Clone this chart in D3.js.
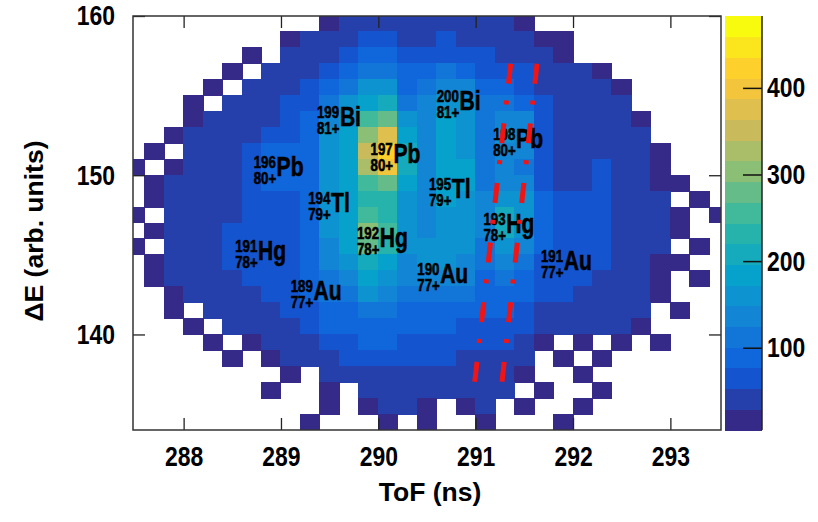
<!DOCTYPE html>
<html>
<head>
<meta charset="utf-8">
<script src="https://cdn.jsdelivr.net/npm/d3@7"></script>
<style>
body { margin: 0; background: #fff; }
svg { display: block; }
.num { font-family: "Liberation Sans", Arial, sans-serif; font-weight: bold; font-size: 28px; fill: #000; }
.title { font-family: "Liberation Sans", Arial, sans-serif; font-weight: bold; font-size: 26.5px; fill: #000; }
.iso { font-family: "Liberation Sans", Arial, sans-serif; font-weight: bold; fill: #000; stroke: #000; stroke-width: 0.6px; }
</style>
</head>
<body>
<svg class="chart-svg" width="818" height="522"></svg>
<script>
// ToF bin centres (ns) and Delta E bin centres (arb. units)
const tofCenters = [287.5, 287.7, 287.9, 288.1, 288.3, 288.5, 288.7, 288.9, 289.1, 289.3, 289.5,
    289.7, 289.9, 290.1, 290.3, 290.5, 290.7, 290.9, 291.1, 291.3, 291.5, 291.7, 291.9, 292.1,
    292.3, 292.5, 292.7, 292.9, 293.1, 293.3, 293.5];
const deCenters = [159.5, 158.5, 157.5, 156.5, 155.5, 154.5, 153.5, 152.5, 151.5, 150.5, 149.5,
    148.5, 147.5, 146.5, 145.5, 144.5, 143.5, 142.5, 141.5, 140.5, 139.5, 138.5, 137.5, 136.5,
    135.5, 134.5];

// counts per cell, one row per Delta E bin (top to bottom)
const counts = [
    [0,0,0,0,0,0,0,0,0,0,8,35,40,45,40,40,45,40,35,30,8,0,0,0,0,0,0,0,0,0,0],
    [0,0,0,0,0,0,0,0,8,30,40,45,55,60,45,50,55,50,45,40,35,8,8,0,0,0,0,0,0,0,0],
    [0,0,0,0,0,0,8,0,35,40,50,60,80,85,60,65,75,70,55,50,45,35,8,0,0,0,0,0,0,0,0],
    [0,0,0,0,0,8,0,35,40,50,70,90,110,120,80,90,110,100,70,60,55,45,35,30,8,0,0,0,0,0,0],
    [0,0,0,0,8,0,30,40,45,60,90,120,150,160,100,110,140,130,90,80,70,50,40,35,30,8,0,0,0,0,0],
    [0,0,0,8,0,30,40,45,55,75,120,150,190,200,120,130,170,160,110,110,100,60,45,40,35,30,0,0,0,0,0],
    [0,0,0,8,30,40,45,50,65,85,140,170,250,280,150,140,180,170,120,140,130,70,50,45,40,35,8,0,0,0,0],
    [0,0,8,30,35,40,50,65,75,95,150,180,300,370,180,140,180,170,120,150,140,75,50,45,45,40,30,0,0,0,0],
    [0,8,0,30,40,45,65,80,85,100,150,190,340,430,200,140,180,170,120,140,130,75,50,45,50,45,30,8,0,0,0],
    [8,0,8,35,40,50,70,85,85,100,150,190,330,410,200,140,180,175,120,130,120,70,50,50,55,45,35,8,0,0,0],
    [0,8,30,40,40,50,65,80,80,100,150,180,260,290,180,140,190,180,120,140,130,70,50,50,55,50,40,8,8,0,0],
    [0,8,35,40,40,45,60,70,75,100,150,180,230,240,160,140,180,170,130,170,150,80,55,55,60,50,40,30,0,8,0],
    [8,0,35,40,40,45,55,65,75,100,150,180,260,240,160,140,170,160,140,220,170,85,60,60,60,50,40,30,8,0,8],
    [0,8,35,40,40,55,70,70,75,100,150,190,300,260,160,140,160,150,130,210,160,85,65,65,60,50,40,30,8,0,0],
    [8,0,35,40,40,60,75,70,75,100,140,180,280,240,150,150,160,150,120,160,130,80,70,70,65,50,40,30,0,8,0],
    [0,8,30,40,40,55,70,65,70,90,130,160,220,190,140,150,150,140,110,130,110,75,70,70,60,45,35,8,8,0,0],
    [0,8,30,40,40,45,55,60,75,85,120,140,180,160,130,140,140,130,100,110,90,70,65,60,50,45,35,8,0,8,0],
    [0,0,8,35,40,40,45,55,70,80,110,120,150,140,120,120,120,110,90,95,80,60,55,50,45,40,30,8,0,0,0],
    [0,0,8,0,35,40,45,50,60,70,95,100,120,115,100,100,100,90,80,80,70,50,45,40,40,35,30,0,8,0,0],
    [0,0,0,8,0,30,40,45,50,60,80,85,100,100,85,85,85,75,70,70,55,40,35,30,30,30,8,0,0,0,0],
    [0,0,0,0,8,0,8,35,40,50,60,70,80,80,70,70,70,60,60,55,40,8,0,8,0,8,0,8,0,0,0],
    [0,0,0,0,0,8,0,8,30,40,50,55,60,60,55,55,55,50,50,45,30,0,8,0,8,0,0,0,0,0,0],
    [0,0,0,0,0,0,0,0,8,0,35,45,50,50,45,45,45,40,40,35,8,0,0,8,0,0,0,0,0,0,0],
    [0,0,0,0,0,0,0,8,0,0,8,0,30,40,40,40,35,35,35,30,0,8,0,0,8,0,0,0,0,0,0],
    [0,0,0,0,0,0,0,0,0,0,8,0,8,30,30,8,0,8,30,0,8,0,0,8,0,0,0,0,0,0,0],
    [0,0,0,0,0,0,0,0,0,8,0,0,0,8,0,8,0,0,8,0,0,0,8,0,0,0,0,0,0,0,0]
];

const tofTicks = [288, 289, 290, 291, 292, 293];
const deTicks = [140, 150, 160];
const zTicks = [100, 200, 300, 400];

// isotope labels: mass, element, charge state, anchor (ToF, Delta E)
const isoMass = ["199", "197", "200", "198", "196", "194", "195", "193", "192", "191", "190", "189", "191"];
const isoElem = ["Bi", "Pb", "Bi", "Pb", "Pb", "Tl", "Tl", "Hg", "Hg", "Hg", "Au", "Au", "Au"];
const isoCharge = ["81+", "80+", "81+", "80+", "80+", "79+", "79+", "78+", "78+", "78+", "77+", "77+", "77+"];
const isoTof = [289.37, 289.92, 290.60, 291.18, 288.72, 289.28, 290.52, 291.08, 289.78, 288.53, 290.40, 289.10, 291.67];
const isoDE = [153.09, 150.77, 154.10, 151.71, 149.95, 147.69, 148.57, 146.37, 145.49, 144.67, 143.23, 142.16, 144.05];

// gate lines (ToF, Delta E) end points
const gateLeft = [[291.36, 157.0], [290.99, 137.0]];
const gateRight = [[291.63, 157.0], [291.27, 137.0]];

const zMin = 5, zMax = 483, nContours = 20;
const narrow = 0.82;

const svg = d3.select(".chart-svg");
const plot = { left: 133, right: 721, top: 16, bottom: 430 };

const x = d3.scaleLinear().domain([287.48, 293.52]).range([plot.left, plot.right]);
const y = d3.scaleLinear().domain([134, 160]).range([plot.bottom, plot.top]);

// ROOT kBird palette
const bird = d3.scaleLinear()
    .domain([0, .125, .25, .375, .5, .625, .75, .875, 1])
    .range(["rgb(53,42,135)", "rgb(15,92,221)", "rgb(20,129,214)", "rgb(6,164,202)", "rgb(46,183,164)",
        "rgb(135,191,119)", "rgb(209,187,89)", "rgb(254,200,50)", "rgb(249,251,14)"])
    .interpolate(d3.interpolateRgb);

function band(v) {
    return Math.max(0, Math.min(nContours - 1, Math.floor((v - zMin) / (zMax - zMin) * nContours)));
}
const color = v => bird(band(v) / (nContours - 1));

svg.append("defs").append("clipPath").attr("id", "clip")
    .append("rect")
    .attr("x", plot.left).attr("y", plot.top)
    .attr("width", plot.right - plot.left).attr("height", plot.bottom - plot.top);

const cells = [];
counts.forEach((row, j) => row.forEach((v, i) => {
    if (v >= zMin) cells.push({ tof: tofCenters[i], de: deCenters[j], v: v });
}));

svg.append("g")
    .attr("clip-path", "url(#clip)")
    .attr("shape-rendering", "crispEdges")
    .selectAll("rect")
    .data(cells)
    .join("rect")
    .attr("x", d => Math.floor(x(d.tof - 0.1)))
    .attr("y", d => Math.floor(y(d.de + 0.5)))
    .attr("width", d => Math.ceil(x(d.tof + 0.1)) - Math.floor(x(d.tof - 0.1)))
    .attr("height", d => Math.ceil(y(d.de - 0.5)) - Math.floor(y(d.de + 0.5)))
    .attr("fill", d => color(d.v));

// isotope labels, condensed like the original
const labels = svg.append("g").attr("class", "iso");
isoMass.forEach((m, i) => {
    const g = labels.append("g")
        .attr("transform", `translate(${x(isoTof[i])},${y(isoDE[i])}) scale(0.78,1)`);
    const t = g.append("text").attr("y", -8);
    t.append("tspan").attr("font-size", 17).text(m);
    t.append("tspan").attr("font-size", 27).attr("dx", 1).attr("dy", 8).text(isoElem[i]);
    g.append("text").attr("y", 8).attr("font-size", 17).text(isoCharge[i]);
});

// gate lines
const line = d3.line().x(d => x(d[0])).y(d => y(d[1]));
svg.append("g")
    .selectAll("path")
    .data([gateLeft, gateRight])
    .join("path")
    .attr("d", line)
    .attr("fill", "none")
    .attr("stroke", "#f01414")
    .attr("stroke-width", 5)
    .attr("stroke-dasharray", "20,17,4,19");

// axes
const axisStyle = g => {
    g.select(".domain").remove();
    g.selectAll(".tick line").attr("stroke", "#222").attr("stroke-width", 1.3);
    g.selectAll(".tick text").attr("class", "num").attr("fill", "#000")
        .attr("transform", `scale(${narrow},1)`);
};

svg.append("g").attr("transform", `translate(0,${plot.bottom})`)
    .call(d3.axisBottom(x).tickValues(tofTicks).tickSize(-12).tickPadding(16).tickFormat(d3.format("d")))
    .call(axisStyle);
svg.append("g").attr("transform", `translate(0,${plot.top})`)
    .call(d3.axisTop(x).tickValues(tofTicks).tickSize(-12).tickFormat(""))
    .call(axisStyle);
svg.append("g").attr("transform", `translate(${plot.left},0)`)
    .call(d3.axisLeft(y).tickValues(deTicks).tickSize(-12).tickPadding(22).tickFormat(d3.format("d")))
    .call(axisStyle);
svg.append("g").attr("transform", `translate(${plot.right},0)`)
    .call(d3.axisRight(y).tickValues(deTicks).tickSize(-12).tickFormat(""))
    .call(axisStyle);

svg.append("rect")
    .attr("x", plot.left).attr("y", plot.top)
    .attr("width", plot.right - plot.left).attr("height", plot.bottom - plot.top)
    .attr("fill", "none").attr("stroke", "#333").attr("stroke-width", 1.5);

svg.append("text").attr("class", "title")
    .attr("x", 430).attr("y", 501).attr("text-anchor", "middle")
    .text("ToF (ns)");
svg.append("text").attr("class", "title")
    .attr("transform", "translate(43,231) rotate(-90)").attr("text-anchor", "middle")
    .text("ΔE (arb. units)");

// colour bar
const bar = { left: 725, right: 762 };
const z = d3.scaleLinear().domain([zMin, zMax]).range([plot.bottom, plot.top]);
const levels = d3.range(nContours);
svg.append("g")
    .attr("shape-rendering", "crispEdges")
    .selectAll("rect")
    .data(levels)
    .join("rect")
    .attr("x", bar.left)
    .attr("width", bar.right - bar.left)
    .attr("y", d => z(zMin + (d + 1) * (zMax - zMin) / nContours))
    .attr("height", d => z(zMin + d * (zMax - zMin) / nContours) - z(zMin + (d + 1) * (zMax - zMin) / nContours) + 0.5)
    .attr("fill", d => bird(d / (nContours - 1)));

svg.append("g").attr("transform", `translate(${bar.right},0)`)
    .call(d3.axisRight(z).tickValues(zTicks).tickSizeInner(-19).tickSizeOuter(0).tickPadding(6))
    .call(g => {
        g.select(".domain").remove();
        g.selectAll(".tick line").attr("stroke", "#111").attr("stroke-width", 1.5).attr("x2", -19);
        g.selectAll(".tick text").attr("class", "num").attr("fill", "#000")
            .attr("x", 6).attr("transform", `scale(${narrow},1)`);
    });
svg.append("line")
    .attr("x1", bar.right).attr("x2", bar.right)
    .attr("y1", plot.top).attr("y2", plot.bottom)
    .attr("stroke", "#222").attr("stroke-width", 1.5);
</script>
</body>
</html>
